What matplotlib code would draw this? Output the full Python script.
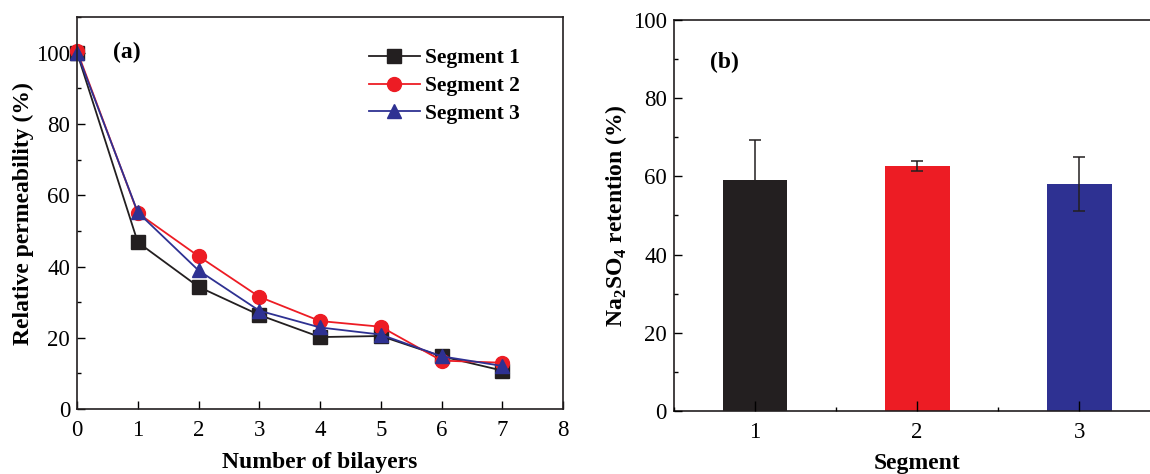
import matplotlib
matplotlib.use("Agg")
import matplotlib.pyplot as plt
from matplotlib.ticker import MultipleLocator

plt.rcParams['font.family'] = ['Liberation Serif', 'DejaVu Serif']
plt.rcParams['mathtext.fontset'] = 'custom'
plt.rcParams['mathtext.rm'] = 'Liberation Serif'
plt.rcParams['mathtext.bf'] = 'Liberation Serif:bold'

bilayers = [0, 1, 2, 3, 4, 5, 6, 7]
seg1 = [100, 46.8, 34.3, 26.4, 20.2, 20.5, 14.8, 10.8]
seg2 = [100.5, 55.0, 42.9, 31.5, 24.7, 23.1, 13.6, 13.0]
seg3 = [100, 55.2, 38.9, 27.6, 22.9, 20.9, 14.8, 12.1]
series_labels = ['Segment 1', 'Segment 2', 'Segment 3']

segments = [1, 2, 3]
retention = [59.0, 62.6, 58.1]
retention_err = [10.4, 1.3, 6.9]

colors = ['#231f20', '#ed1c24', '#2e3192']
markers = ['s', 'o', '^']

fig = plt.figure(figsize=(11.5, 4.74), dpi=100)
ax1 = fig.add_axes([0.067, 0.137, 0.4226, 0.827])
ax2 = fig.add_axes([0.586, 0.133, 0.423, 0.825])

fs_tick = 16.5
fs_lab = 17
fs_leg = 15.5
for ys, c, m, lab in zip([seg1, seg2, seg3], colors, markers, series_labels):
    ax1.plot(bilayers, ys, color=c, marker=m, markersize=9.5 if m != 'o' else 10,
             linewidth=1.3, label=lab, clip_on=False)
ax1.set_xlim(0, 8)
ax1.set_ylim(0, 110)
ax1.xaxis.set_major_locator(MultipleLocator(1))
ax1.yaxis.set_minor_locator(MultipleLocator(10))
ax1.set_yticks([0, 20, 40, 60, 80, 100])
ax1.set_xlabel('Number of bilayers', fontsize=fs_lab, fontweight='bold', labelpad=8)
ax1.set_ylabel('Relative permeability (%)', fontsize=fs_lab, fontweight='bold', labelpad=1.5)
ax1.text(0.6, 100, '(a)', fontsize=fs_lab, fontweight='bold', va='center')
leg = ax1.legend(loc='upper right', bbox_to_anchor=(0.928, 0.942), frameon=False,
                 prop={'size': fs_leg, 'weight': 'bold'}, handlelength=2.4,
                 handletextpad=0.2, labelspacing=0.35, borderaxespad=0)

ax2.bar(segments, retention, width=0.4, color=colors, zorder=1)
ax2.errorbar(segments, retention, yerr=retention_err, fmt='none', ecolor='#231f20',
             elinewidth=1.1, capsize=4, capthick=1.1, zorder=3)
ax2.set_xlim(0.5, 3.5)
ax2.set_ylim(0, 100)
ax2.set_xticks(segments)
ax2.xaxis.set_minor_locator(MultipleLocator(0.5))
ax2.yaxis.set_major_locator(MultipleLocator(20))
ax2.yaxis.set_minor_locator(MultipleLocator(10))
ax2.set_xlabel('Segment', fontsize=fs_lab, fontweight='bold', labelpad=7)
ax2.set_ylabel(r'Na$_\mathbf{2}$SO$_\mathbf{4}$ retention (%)', fontsize=fs_lab,
               fontweight='bold', labelpad=3)
ax2.text(0.72, 89, '(b)', fontsize=fs_lab, fontweight='bold', va='center')

for ax in (ax1, ax2):
    ax.tick_params(which='both', direction='in', labelsize=fs_tick, width=1.0,
                   top=False, right=False)
    ax.tick_params(which='major', length=6, pad=8)
    ax.tick_params(which='minor', length=3)
    ax.tick_params(axis='y', which='major', pad=5)
    for sp in ax.spines.values():
        sp.set_linewidth(1.2)
        sp.set_color('#231f20')
ax1.tick_params(axis='x', which='minor', bottom=False)
ax2.tick_params(axis='x', which='major', length=7)
ax2.set_axisbelow(False)

fig.savefig('out.png', dpi=100)
